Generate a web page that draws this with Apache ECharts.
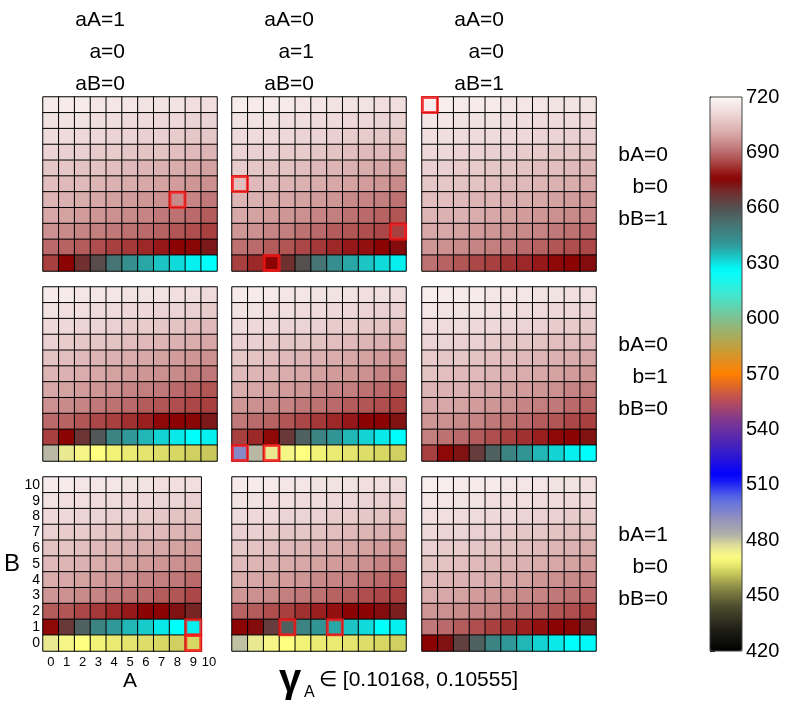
<!DOCTYPE html>
<html><head><meta charset="utf-8">
<script src="https://cdn.jsdelivr.net/npm/echarts@6/dist/echarts.min.js"></script>
<style>html,body{margin:0;padding:0;background:#fff}#c{width:792px;height:706px}</style>
</head><body><div id="c"></div>
<script>
// ---------- categories / ticks ----------
const aCats = ['0','1','2','3','4','5','6','7','8','9','10'];
const bCats = ['0','1','2','3','4','5','6','7','8','9','10'];
const cbTicks = [420,450,480,510,540,570,600,630,660,690,720];
const colHeaders = [['aA=1','a=0','aB=0'],['aA=0','a=1','aB=0'],['aA=0','a=0','aB=1']];
const rowHeaders = [['bA=0','b=0','bB=1'],['bA=0','b=1','bB=0'],['bA=1','b=0','bB=0']];
const gammaLabel = ['γ','A','∈ [0.10168, 0.10555]'];

// ---------- values: rows listed from B=10 (top) down to B=0 ----------
const p11 = [
[716,716,716,715,715,715,714,714,714,713,713],
[714,714,714,713,713,712,712,711,711,710,710],
[712,712,711,711,710,710,709,709,708,707,707],
[710,709,709,708,708,707,706,706,705,704,703],
[707,707,706,706,705,704,703,702,701,700,699],
[705,704,704,703,702,701,700,699,698,697,696],
[703,702,701,700,699,698,697,696,695,694,692],
[700,699,698,697,696,695,694,692,691,690,688],
[696,695,694,693,692,691,690,689,687,686,684],
[690,689,688,686,684,683,681,679,676,675,672],
[684,676,668,661,651,643,638,634,631,628,626]];
const p12 = [
[717,716,716,716,715,715,714,714,714,713,713],
[714,714,714,713,713,712,712,711,711,710,710],
[712,712,711,711,710,710,709,708,708,707,706],
[710,709,709,708,708,707,706,705,704,704,703],
[708,707,706,706,705,704,703,702,701,700,699],
[705,704,704,703,702,701,700,699,698,697,695],
[703,702,701,700,699,698,697,695,694,693,691],
[700,699,698,697,696,694,693,691,690,689,687],
[697,696,694,693,691,690,688,687,686,685,684],
[691,690,688,687,685,683,681,679,678,676,674],
[684,681,676,668,660,651,643,638,634,631,628]];
const p13 = [
[717,717,716,716,716,715,715,715,714,714,714],
[715,715,714,714,714,713,713,712,712,712,711],
[713,713,712,712,712,711,711,710,710,709,709],
[711,711,710,710,709,709,708,708,707,707,706],
[709,709,708,708,707,707,706,705,705,704,703],
[707,707,706,706,705,704,704,703,702,701,700],
[705,705,704,703,703,702,701,700,699,698,697],
[703,702,702,701,700,699,698,697,696,695,694],
[700,700,699,698,697,696,695,694,692,691,690],
[697,696,695,694,693,692,690,689,687,686,685],
[691,689,687,685,684,682,681,679,677,676,674]];
const p21 = [
[716,716,715,715,715,714,714,714,713,713,712],
[714,713,713,712,712,711,711,710,710,709,708],
[711,711,710,710,709,708,708,707,706,705,704],
[709,708,707,707,706,705,704,703,702,701,700],
[706,705,704,703,702,701,700,699,698,697,696],
[703,702,701,700,699,698,697,696,695,693,692],
[700,699,698,697,696,694,693,692,690,689,687],
[696,695,694,692,691,690,688,687,686,685,684],
[690,689,687,685,684,682,680,677,676,675,672],
[684,676,667,658,646,640,636,632,629,626,628],
[482,475,472,470,468,467,466,465,464,463,462]];
const p22 = [
[716,716,716,715,715,714,714,714,713,713,712],
[714,714,713,713,712,712,711,711,710,709,709],
[712,711,711,710,710,709,708,708,707,706,705],
[709,709,708,707,707,706,705,704,703,702,701],
[707,706,705,704,703,702,701,700,699,698,697],
[704,703,702,701,700,699,698,697,696,694,693],
[701,700,699,698,697,695,694,693,691,690,688],
[697,696,695,694,692,691,690,688,687,686,684],
[692,690,689,687,685,683,681,679,676,676,673],
[684,681,677,666,656,646,641,636,632,629,626],
[494,482,475,472,470,468,467,466,465,464,463]];
const p23 = [
[717,716,716,716,715,715,715,714,714,713,713],
[715,714,714,714,713,713,712,712,711,711,710],
[712,712,712,711,711,710,710,709,708,708,707],
[710,710,709,709,708,707,707,706,705,705,704],
[708,707,707,706,705,705,704,703,702,701,700],
[706,705,704,704,703,702,701,700,699,698,697],
[703,702,702,701,700,699,698,697,696,694,693],
[700,700,699,698,697,696,694,693,692,690,689],
[697,696,695,694,692,691,690,688,687,685,684],
[693,691,690,688,686,684,682,680,677,676,673],
[684,677,673,665,656,646,641,636,632,628,626]];
const p31 = [
[716,716,715,715,715,714,714,713,713,713],
[714,713,713,712,712,711,711,710,710,709],
[711,711,710,710,709,709,708,707,706,706],
[709,708,708,707,706,705,705,704,703,702],
[706,706,705,704,703,702,701,700,699,698],
[704,703,702,701,700,699,698,697,696,695],
[701,700,699,698,697,696,694,693,692,690],
[697,696,695,694,692,691,690,688,687,685],
[688,687,685,683,681,679,676,676,673,670],
[677,666,656,646,640,636,633,629,626,628],
[475,472,470,468,467,466,465,464,463,464]];
const p32 = [
[716,716,716,715,715,714,714,714,713,713,712],
[714,714,713,713,712,712,711,711,710,709,709],
[712,711,711,710,710,709,708,708,707,706,705],
[709,709,708,707,707,706,705,704,703,702,701],
[707,706,705,704,703,702,701,700,699,698,697],
[704,703,702,701,700,699,698,697,696,694,693],
[701,700,699,698,697,695,694,693,691,690,688],
[697,696,695,693,692,691,689,688,686,685,684],
[689,688,686,684,682,680,678,676,676,674,671],
[676,674,665,656,646,641,638,634,631,626,628],
[481,475,472,470,468,467,467,466,465,464,463]];
const p33 = [
[717,717,716,716,716,715,715,715,714,714,713],
[715,715,714,714,713,713,713,712,712,711,711],
[713,713,712,712,711,711,710,709,709,708,708],
[711,710,710,709,709,708,707,707,706,705,705],
[709,708,708,707,706,706,705,704,703,702,701],
[706,706,705,704,703,703,702,701,700,699,698],
[704,703,702,702,701,700,699,697,696,695,694],
[701,700,699,698,697,696,695,694,692,691,690],
[697,696,695,694,693,691,690,689,687,686,684],
[692,690,688,686,684,682,680,678,676,675,671],
[676,673,664,656,646,640,636,632,629,626,627]];

// highlighted cells [A, B]
const h11 = [[8,4]];
const h12 = [[0,5],[10,2],[2,0]];
const h13 = [[0,10]];
const h21 = [];
const h22 = [[0,0],[2,0]];
const h23 = [];
const h31 = [[9,1],[9,0]];
const h32 = [[3,1],[6,1]];
const h33 = [];

// ---------- colour map ----------
const cmapStops = [
[420,'#000000'],[432,'#202018'],[445,'#505030'],[455,'#909048'],[463,'#d0d060'],
[470,'#ffff80'],[477,'#e0e098'],[483,'#b0b0a8'],[492,'#9090c0'],[502,'#6070e0'],
[515,'#0000ff'],[530,'#4020c0'],[545,'#803890'],[557,'#c05050'],[570,'#ff8000'],
[585,'#c0a040'],[600,'#80c090'],[613,'#40e8d0'],[626,'#00ffff'],[640,'#309898'],
[652,'#487070'],[660,'#555050'],[668,'#703030'],[676,'#8b0000'],[684,'#a84040'],
[692,'#c07878'],[700,'#d8a8a8'],[710,'#ecd4d4'],[720,'#fcf8f8']];
function h2r(h){return [1,3,5].map(i=>parseInt(h.slice(i,i+2),16));}
function colorAt(v){
  for(let i=0;i<cmapStops.length-1;i++){
    const [v0,c0]=cmapStops[i],[v1,c1]=cmapStops[i+1];
    if(v>=v0&&v<=v1){const t=(v-v0)/(v1-v0);const a=h2r(c0),b=h2r(c1);
      return 'rgb('+a.map((x,k)=>Math.round(x+(b[k]-x)*t)).join(',')+')';}
  }
  return cmapStops[cmapStops.length-1][1];
}
const cmapColors=[];for(let k=0;k<=240;k++){cmapColors.push(colorAt(420+k*1.25));}

// ---------- layout ----------
const FONT='Liberation Sans, Arial, sans-serif';
const gLeft=[43,232,422], gTop=[97,287,477], S=174;
const panels=[[p11,p12,p13],[p21,p22,p23],[p31,p32,p33]];
const highs=[[h11,h12,h13],[h21,h22,h23],[h31,h32,h33]];

const grid=[],xAxis=[],yAxis=[],series=[],scat=[];
for(let r=0;r<3;r++)for(let c=0;c<3;c++){
  const gi=r*3+c, lab=(gi===6);
  grid.push({left:gLeft[c],top:gTop[r],width:S,height:S,containLabel:false});
  xAxis.push({gridIndex:gi,type:'category',data:aCats,axisLine:{show:false},axisTick:{show:false},
    splitLine:{show:false},axisLabel:{show:lab,fontSize:13,color:'#000',margin:5,fontFamily:FONT,interval:0}});
  yAxis.push({gridIndex:gi,type:'category',data:bCats,axisLine:{show:false},axisTick:{show:false},
    splitLine:{show:false},axisLabel:{show:lab,fontSize:14,color:'#000',margin:3,fontFamily:FONT,interval:0}});
  const data=[];
  panels[r][c].forEach((row,i)=>row.forEach((v,a)=>data.push([a,10-i,v])));
  series.push({type:'heatmap',xAxisIndex:gi,yAxisIndex:gi,data:data,
    itemStyle:{borderColor:'#000',borderWidth:1},emphasis:{disabled:true},z:2});
  scat.push({type:'scatter',xAxisIndex:gi,yAxisIndex:gi,data:highs[r][c],symbol:'rect',symbolSize:15,
    itemStyle:{color:'rgba(0,0,0,0)',borderColor:'#ff1a1a',borderWidth:3},emphasis:{disabled:true},z:5,silent:true});
}
// colour-bar axis grid
grid.push({left:710,top:97,width:32,height:554,show:true,borderColor:'#444',borderWidth:1,backgroundColor:'transparent',z:10});
xAxis.push({gridIndex:9,type:'value',show:false,min:0,max:1});
yAxis.push({gridIndex:9,type:'value',min:cbTicks[0],max:cbTicks[cbTicks.length-1],interval:30,position:'right',
  axisLine:{show:true,lineStyle:{color:'#000',width:1}},axisTick:{show:true,inside:false,length:5,lineStyle:{color:'#000'}},
  splitLine:{show:false},axisLabel:{fontSize:20,color:'#000',margin:4,fontFamily:FONT}});
const allSeries=series.concat(scat);
allSeries.push({type:'scatter',xAxisIndex:9,yAxisIndex:9,data:[],silent:true});

const graphic=[];
for(let c=0;c<3;c++){colHeaders[c].forEach((t,k)=>graphic.push({type:'text',x:gLeft[c]+S/2-5,y:20+k*32,
  style:{text:t,font:'21px '+FONT,fill:'#000',textAlign:'right',textVerticalAlign:'middle'}}));}
for(let r=0;r<3;r++){rowHeaders[r].forEach((t,k)=>graphic.push({type:'text',x:668,y:gTop[r]+58+k*32,
  style:{text:t,font:'21px '+FONT,fill:'#000',textAlign:'right',textVerticalAlign:'middle'}}));}
graphic.push({type:'text',x:130,y:681,style:{text:'A',font:'21px '+FONT,fill:'#000',textAlign:'center',textVerticalAlign:'middle'}});
graphic.push({type:'text',x:12,y:564,style:{text:'B',font:'24px '+FONT,fill:'#000',textAlign:'center',textVerticalAlign:'middle'}});
graphic.push({type:'text',x:279,y:681,style:{text:gammaLabel[0],font:'bold 40px '+FONT,fill:'#000',textAlign:'left',textVerticalAlign:'middle'}});
graphic.push({type:'text',x:304,y:693,style:{text:gammaLabel[1],font:'16px '+FONT,fill:'#000',textAlign:'left',textVerticalAlign:'middle'}});
graphic.push({type:'text',x:319,y:680,style:{text:gammaLabel[2],font:'21px '+FONT,fill:'#000',textAlign:'left',textVerticalAlign:'middle'}});

const chart=echarts.init(document.getElementById('c'),null,{renderer:'canvas'});
chart.setOption({
  animation:false,backgroundColor:'#fff',
  grid,xAxis,yAxis,series:allSeries,graphic,
  visualMap:{type:'continuous',min:420,max:720,seriesIndex:[0,1,2,3,4,5,6,7,8],calculable:false,
    left:710,top:97,itemWidth:32,itemHeight:554,padding:0,text:null,showLabel:false,
    inRange:{color:cmapColors},hoverLink:false}
});
</script></body></html>
